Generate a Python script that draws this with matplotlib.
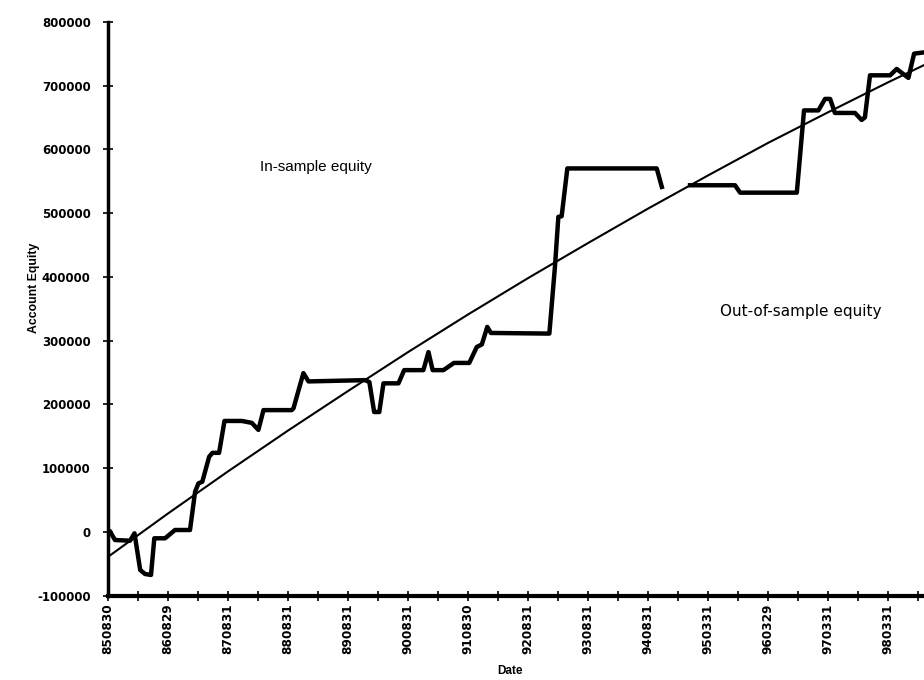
import matplotlib
matplotlib.use('Agg')
from matplotlib import pyplot as plt
from matplotlib.ticker import MultipleLocator

# x positions are in category-tick units (one minor tick = 1)
in_sample_period = [0.07, 0.23, 0.73, 0.88, 1.07, 1.23, 1.43, 1.54, 1.9, 2.23, 2.73, 2.9,
                    3.01, 3.14, 3.37, 3.48, 3.7, 3.88, 4.46, 4.79, 5.01, 5.18, 6.12, 6.18,
                    6.51, 6.68, 8.57, 8.71, 8.87, 9.04, 9.18, 9.68, 9.87, 10.51, 10.68,
                    10.82, 11.18, 11.53, 12.04, 12.29, 12.46, 12.64, 12.76, 14.71, 14.9,
                    15.01, 15.12, 15.31, 18.29, 18.46]
in_sample_equity = [0, -12700, -13800, -2200, -59700, -66000, -67500, -10000, -10000, 3000,
                    3000, 63000, 76000, 78700, 118000, 124000, 124000, 174000, 174000,
                    171000, 160000, 191000, 191000, 193700, 249000, 236000, 238000, 235000,
                    188000, 188000, 233000, 233000, 253700, 253700, 282000, 253700, 253700,
                    265000, 265000, 290000, 294000, 321500, 312000, 311000, 418000, 494000,
                    495000, 570000, 570000, 541000]

out_sample_period = [19.4, 20.9, 21.07, 22.96, 23.2, 23.68, 23.9, 24.07, 24.23, 24.9, 25.12,
                     25.23, 25.4, 26.07, 26.29, 26.51, 26.68, 26.87, 27.2]
out_sample_equity = [543600, 543600, 532000, 532000, 661000, 661000, 679000, 679000, 657000,
                     657000, 646000, 650000, 716000, 716000, 726000, 718000, 712000, 750000,
                     752000]

trend_period = [0, 2, 4, 6, 8, 10, 12, 14, 16, 18, 20, 22, 24, 26, 27.2]
trend_equity = [-39000, 29000, 95000, 159000, 221000, 282000, 341000, 398000, 453000,
                507000, 559000, 610000, 658000, 705000, 732000]

date_labels = ['850830', '860829', '870831', '880831', '890831', '900831', '910830',
               '920831', '930831', '940831', '950331', '960329', '970331', '980331']

fig = plt.figure(figsize=(9.24, 6.8), dpi=100)
ax = fig.add_axes([0.117, 0.124, 0.883, 0.844])

ax.plot(trend_period, trend_equity, color='black', linewidth=1.5, zorder=2)
ax.plot(in_sample_period, in_sample_equity, color='black', linewidth=3.2,
        solid_joinstyle='round', zorder=3)
ax.plot(out_sample_period, out_sample_equity, color='black', linewidth=3.2,
        solid_joinstyle='round', zorder=3)

ax.set_xlim(0, 27.2)
ax.set_ylim(-100000, 800000)

ax.set_xticks(range(0, 2 * len(date_labels), 2))
ax.set_xticklabels(date_labels, rotation=90, fontsize=8.7, fontweight='bold',
                   family='DejaVu Sans')
ax.xaxis.set_minor_locator(MultipleLocator(1))
ax.set_yticks(range(-100000, 800001, 100000))
ax.set_yticklabels([str(v) for v in range(-100000, 800001, 100000)],
                   fontsize=8.5, fontweight='bold', family='DejaVu Sans')

ax.tick_params(axis='y', which='major', direction='inout', length=7, width=1.2, pad=9)
ax.tick_params(axis='x', which='both', direction='inout', length=7, width=1.2, pad=2)

for side in ['top', 'right']:
    ax.spines[side].set_visible(False)
ax.spines['left'].set_linewidth(2.5)
ax.spines['bottom'].set_linewidth(3.0)

ax.set_ylabel('Account Equity', fontsize=8.8, fontweight='bold', family='Liberation Sans')
ax.yaxis.set_label_coords(-0.083, 0.536)
ax.set_xlabel('Date', fontsize=8.5, fontweight='bold', family='Liberation Sans')
ax.xaxis.set_label_coords(0.493, -0.121)

ax.text(6.93, 573000, 'In-sample equity', fontsize=11, family='Liberation Sans',
        ha='center', va='center')
ax.text(23.1, 346000, 'Out-of-sample equity', fontsize=11, family='DejaVu Sans',
        ha='center', va='center')

fig.savefig('out.png', dpi=100)
